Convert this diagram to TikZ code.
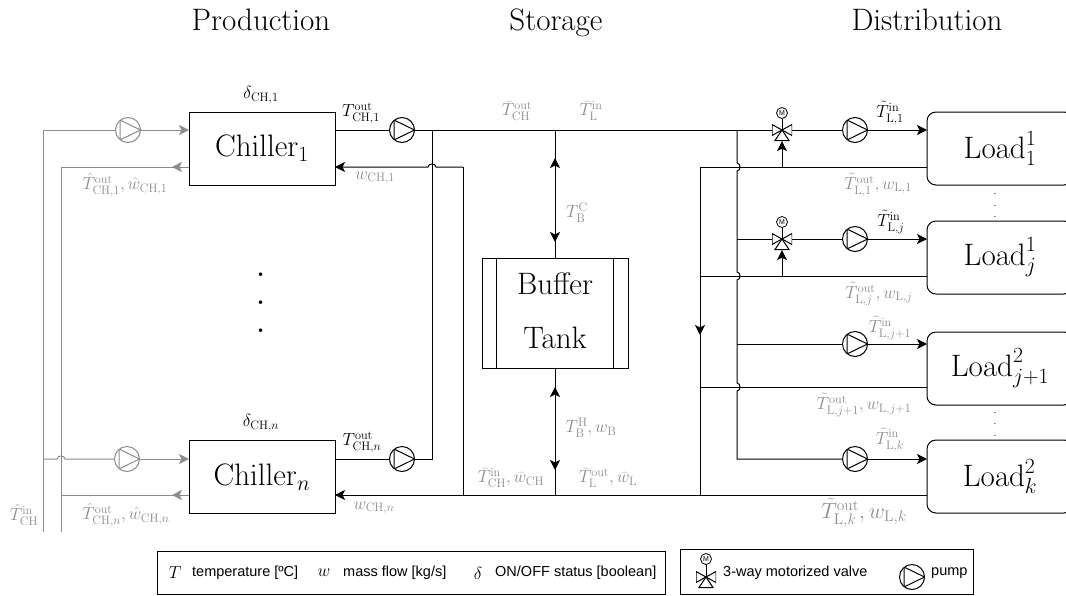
\RequirePackage{fix-cm}
\documentclass[tikz,border=0pt]{standalone}
\usepackage{amsmath}
\usepackage[no-math]{fontspec}
\setsansfont{Liberation Sans}
\usetikzlibrary{arrows.meta,calc}
\definecolor{lg}{HTML}{8C8C8C}
\tikzset{
  x=1pt,y=-1pt,
  line/.style={line width=1pt,black},
  gline/.style={line width=1pt,lg},
  tipp/.style={-{Stealth[length=10pt,width=10pt,inset=2.5pt]}},
  bigbox/.style={draw,line width=1pt,minimum width=146pt,minimum height=73pt,inner sep=0pt,font=\fontsize{31}{36}\selectfont},
  loadbox/.style={bigbox,rounded corners=9pt},
  title/.style={font=\fontsize{31}{36}\selectfont,anchor=base},
  lab/.style={font=\fontsize{17.5}{20}\selectfont,inner sep=0pt},
  glab/.style={lab,text=lg},
  pump/.style={circle,draw=#1,line width=1pt,minimum size=25pt,inner sep=0pt,fill=white,
    path picture={\draw[#1,line width=1pt] ($(path picture bounding box.center)+(-8,-10)$) -- ($(path picture bounding box.center)+(12.5,0)$) -- ($(path picture bounding box.center)+(-8,10)$) -- cycle;}},
  pump/.default=black,
  valve/.style={rectangle,minimum width=20pt,minimum height=22pt,inner sep=0pt,
    path picture={\draw[line width=1pt,fill=white] ($(path picture bounding box.center)+(-10,-5.5)$) -- ($(path picture bounding box.center)+(10,5.5)$) -- ($(path picture bounding box.center)+(10,-5.5)$) -- ($(path picture bounding box.center)+(-10,5.5)$) -- cycle;
    \draw[line width=1pt] ($(path picture bounding box.center)$) -- ($(path picture bounding box.center)+(-7,10.5)$) -- ($(path picture bounding box.center)+(7,10.5)$) -- cycle;}},
  mcirc/.style={circle,draw,line width=.8pt,minimum size=11pt,inner sep=0pt,fill=white,font=\sffamily\fontsize{7}{8}\selectfont},
  legtxt/.style={font=\sffamily\fontsize{14.5}{17}\selectfont,inner sep=0pt,anchor=west},
  legm/.style={font=\fontsize{17.5}{20}\selectfont,inner sep=0pt},
  dott/.style={font=\fontsize{#1}{#1}\selectfont,inner sep=0pt,anchor=base},
}
\begin{document}
\begin{tikzpicture}
\useasboundingbox (0,0) rectangle (1066,595);
\clip (0,0) rectangle (1066,595);
% titles
\node[title] (t1) at (261,30) {Production};
\node[title] (t2) at (556,30) {Storage};
\node[title] (t3) at (927,30) {Distribution};
% boxes
\node[bigbox] (ch1) at (262,148.5) {$\mathrm{Chiller}_1$};
\node[bigbox] (chn) at (262,477) {$\mathrm{Chiller}_n$};
\node[bigbox,minimum height=110pt,align=center,text depth=4pt] (tank) at (555,313) {Buffer\\[18pt]Tank};
\draw[line] ($(tank.north west)+(15,0)$) coordinate (tl1) -- (tl1 |- tank.south);
\draw[line] ($(tank.north east)+(-15,0)$) coordinate (tl2) -- (tl2 |- tank.south);
\node[loadbox] (l1) at (1000,148.5) {$\mathrm{Load}_1^1$};
\node[loadbox] (lj) at (1000,257.5) {$\mathrm{Load}_j^1$};
\node[loadbox] (lj1) at (1000,368.5) {$\mathrm{Load}_{j+1}^2$};
\node[loadbox] (lk) at (1000,476.5) {$\mathrm{Load}_k^2$};
% pumps
\node[pump=lg] (pg1) at (128,130) {};
\node[pump=lg] (pgn) at (127,459) {};
\node[pump] (pc1) at (402,130) {};
\node[pump] (pcn) at (402,459) {};
\node[pump] (pl1) at (855,130) {};
\node[pump] (plj) at (855,239) {};
\node[pump] (plj1) at (855,344) {};
\node[pump] (plk) at (855,459) {};
% valves
\node[valve] (v1) at (782,130) {};
\node[valve] (v2) at (782,239) {};
\node[mcirc] (m1) at (782,113) {M};
\node[mcirc] (m2) at (782,222) {M};
\draw[line] (m1) -- (v1.center);
\draw[line] (m2) -- (v2.center);
% coordinates
\coordinate (gi1) at (43,130); \coordinate (gi0) at (43,532);
\coordinate (go1) at (61,167); \coordinate (go0) at (61,532);
\coordinate (goa) at (172,167); \coordinate (gob) at (172,495);
\coordinate (gin) at (43,459); \coordinate (gon) at (61,495);
\coordinate (c1in) at (189,130); \coordinate (c1out) at (189,167);
\coordinate (cnin) at (189,459); \coordinate (cnout) at (189,495);
\coordinate (c1w) at (335,167); \coordinate (cnw) at (335,495);
\coordinate (c1o) at (335,130); \coordinate (cno) at (335,459);
\coordinate (jt) at (432,130); \coordinate (jb) at (432,459);
\coordinate (rt) at (463,167); \coordinate (rb) at (463,495);
\coordinate (st) at (555,130); \coordinate (sb) at (555,495);
\coordinate (r1) at (737,130); \coordinate (r2) at (737,239); \coordinate (r3) at (737,344); \coordinate (r4) at (737,459);
\coordinate (b1) at (700,167); \coordinate (b2) at (700,276); \coordinate (b3) at (700,387); \coordinate (b4) at (700,495);
\coordinate (e1) at (927,167); \coordinate (e2) at (927,276); \coordinate (e3) at (927,387); \coordinate (e4) at (927,495);
\coordinate (i1) at (927,130); \coordinate (i2) at (927,239); \coordinate (i3) at (927,344); \coordinate (i4) at (927,459);
\coordinate (vr1) at (782,167); \coordinate (vr2) at (782,276);
% gray connectors
\draw[gline] (gi0) -- (gi1) -- (pg1);
\draw[gline,tipp] (pg1) -- (c1in);
\draw[gline] (go0) -- (go1) -- (c1out);
\draw[gline,tipp] (c1out) -- (goa);
\draw[gline] (gin) -- (57,459) .. controls (57,455) and (65,455) .. (65,459) -- (pgn);
\draw[gline,tipp] (pgn) -- (cnin);
\draw[gline] (gon) -- (cnout);
\draw[gline,tipp] (cnout) -- (gob);
% black connectors
\draw[line] (c1o) -- (pc1);
\draw[line] (pc1) -- (v1.west);
\draw[line] (v1.east) -- (pl1);
\draw[line,tipp] (pl1) -- (i1);
\draw[line] (cno) -- (pcn) -- (jb) -- (jt);
\draw[line,tipp] (rt) -- (436,167) .. controls (436,163) and (428,163) .. (428,167) -- (c1w);
\draw[line] (rt) -- (rb);
\draw[line,tipp] (e4) -- (cnw);
% storage
\draw[line] (st) -- (tank.north);
\draw[line,tipp] (555,190) -- (555,158);
\draw[line,tipp] (555,215) -- (555,242);
\draw[line] (sb) -- (tank.south);
\draw[line,tipp] (555,420) -- (555,387);
\draw[line,tipp] (555,440) -- (555,470);
% distribution
\draw[line] (r1) -- (737,163) .. controls (741,163) and (741,171) .. (737,171) -- (737,272) .. controls (741,272) and (741,280) .. (737,280) -- (737,383) .. controls (741,383) and (741,391) .. (737,391) -- (r4) -- (plk);
\draw[line,tipp] (plk) -- (i4);
\draw[line] (r2) -- (v2.west);
\draw[line] (v2.east) -- (plj);
\draw[line,tipp] (plj) -- (i2);
\draw[line] (r3) -- (plj1);
\draw[line,tipp] (plj1) -- (i3);
\draw[line] (e1) -- (b1) -- (b4);
\draw[line] (e2) -- (b2);
\draw[line] (e3) -- (b3);
\draw[line,tipp] (700,300) -- (700,335);
\draw[line,tipp] (vr1) -- (v1.south);
\draw[line,tipp] (vr2) -- (v2.south);
% labels
\node[lab] (a1) at (261,95) {$\delta_{\mathrm{CH},1}$};
\node[lab] (a2) at (261,423) {$\delta_{\mathrm{CH},n}$};
\node[lab] (a3) at (361,113) {$T^{\mathrm{out}}_{\mathrm{CH},1}$};
\node[lab] (a4) at (362,442) {$T^{\mathrm{out}}_{\mathrm{CH},n}$};
\node[glab] (a5) at (125,185) {$\hat{T}^{\mathrm{out}}_{\mathrm{CH},1},\hat{w}_{\mathrm{CH},1}$};
\node[glab] (a6) at (126,515) {$\hat{T}^{\mathrm{out}}_{\mathrm{CH},n},\hat{w}_{\mathrm{CH},n}$};
\node[glab] (a7) at (375,178) {$w_{\mathrm{CH},1}$};
\node[glab] (a8) at (374,508) {$w_{\mathrm{CH},n}$};
\node[glab] (a9) at (24,515) {$\hat{T}^{\mathrm{in}}_{\mathrm{CH}}$};
\node[glab] (a10) at (517,111) {$\bar{T}^{\mathrm{out}}_{\mathrm{CH}}$};
\node[glab] (a11) at (591,111) {$\bar{T}^{\mathrm{in}}_{\mathrm{L}}$};
\node[glab] (a12) at (577,213) {$T^{\mathrm{C}}_{\mathrm{B}}$};
\node[glab] (a13) at (591,428) {$T^{\mathrm{H}}_{\mathrm{B}},w_{\mathrm{B}}$};
\node[glab] (a14) at (511,478) {$\bar{T}^{\mathrm{in}}_{\mathrm{CH}},\bar{w}_{\mathrm{CH}}$};
\node[glab] (a15) at (608,478) {$\bar{T}^{\mathrm{out}}_{\mathrm{L}},\bar{w}_{\mathrm{L}}$};
\node[lab] (a16) at (890,113) {$\tilde{T}^{\mathrm{in}}_{\mathrm{L},1}$};
\node[lab] (a17) at (891,222) {$\tilde{T}^{\mathrm{in}}_{\mathrm{L},j}$};
\node[glab] (a18) at (890,328) {$\tilde{T}^{\mathrm{in}}_{\mathrm{L},j+1}$};
\node[glab] (a19) at (890,440) {$\tilde{T}^{\mathrm{in}}_{\mathrm{L},k}$};
\node[glab] (a20) at (878,185) {$\tilde{T}^{\mathrm{out}}_{\mathrm{L},1},w_{\mathrm{L},1}$};
\node[glab] (a21) at (879,294) {$\tilde{T}^{\mathrm{out}}_{\mathrm{L},j},w_{\mathrm{L},j}$};
\node[glab] (a22) at (864,405) {$\tilde{T}^{\mathrm{out}}_{\mathrm{L},j+1},w_{\mathrm{L},j+1}$};
\node[glab,font=\fontsize{22}{26}\selectfont] (a23) at (864,513) {$\tilde{T}^{\mathrm{out}}_{\mathrm{L},k},w_{\mathrm{L},k}$};
% dots
\node[dott=44] (d1) at (261,276) {.};
\node[dott=44] (d2) at (261,304) {.};
\node[dott=44] (d3) at (261,332) {.};
\node[dott=12] (d4) at (995,194) {.};
\node[dott=12] (d5) at (995,206) {.};
\node[dott=12] (d6) at (995,217) {.};
\node[dott=12] (d7) at (995,413) {.};
\node[dott=12] (d8) at (995,424) {.};
\node[dott=12] (d9) at (995,436) {.};
% legend
\draw[line] (157,551) rectangle (665,594);
\draw[line] (680,549.5) rectangle (973,594);
\node[legm] (k1) at (175,573) {$T$};
\node[legtxt] (k2) at (192,573) {temperature [ºC]};
\node[legm] (k3) at (324,573) {$w$};
\node[legtxt] (k4) at (343,573) {mass flow [kg/s]};
\node[legm] (k5) at (478,573) {$\delta$};
\node[legtxt] (k6) at (495,573) {ON/OFF status [boolean]};
\node[valve] (kv) at (706,577) {};
\node[mcirc] (km) at (706,559) {M};
\draw[line] (km) -- (kv.center);
\node[legtxt] (k7) at (723,573) {3-way motorized valve};
\node[pump] (kp) at (912,577) {};
\node[legtxt] (k8) at (931,573) {pump};
\end{tikzpicture}
\end{document}
